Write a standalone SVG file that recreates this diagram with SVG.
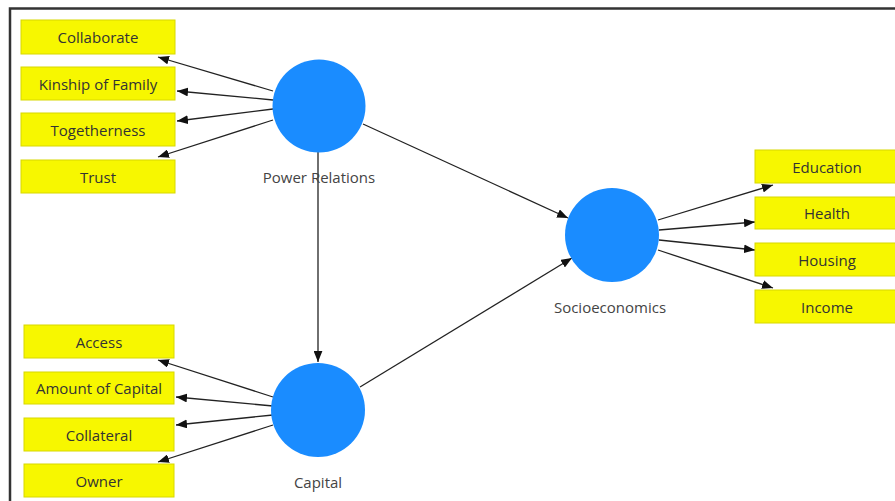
<svg xmlns="http://www.w3.org/2000/svg" width="895" height="501" viewBox="0 0 895 501">
<defs>
<style>
.box{fill:#f7f700;stroke:#d8d800;stroke-width:1}
.bt{font-family:"Open Sans","Liberation Sans",sans-serif;font-size:15px;fill:#333;text-anchor:middle;dominant-baseline:central}
.circ{fill:#1a8cff}
.lbl{font-family:"Open Sans","Liberation Sans",sans-serif;font-size:15px;fill:#444;text-anchor:middle;dominant-baseline:central}
.edge{stroke:#222;stroke-width:1.3;fill:none;marker-end:url(#arr)}
</style>
<marker id="arr" viewBox="0 0 10 8" refX="10" refY="4" markerWidth="11" markerHeight="9" markerUnits="userSpaceOnUse" orient="auto">
<path d="M0,0 L10,4 L0,8 Z" fill="#111"/>
</marker>
</defs>
<rect width="895" height="501" fill="#fff"/>
<path d="M10,501 V8.5 H895" fill="none" stroke="#333" stroke-width="2.5"/>

<g id="connectors">
<line class="edge" x1="273" y1="91" x2="158" y2="57"/>
<line class="edge" x1="273" y1="100" x2="177" y2="91"/>
<line class="edge" x1="273" y1="109" x2="177" y2="121"/>
<line class="edge" x1="273" y1="120" x2="158" y2="157"/>
<line class="edge" x1="273" y1="397" x2="158" y2="360"/>
<line class="edge" x1="273" y1="406" x2="176" y2="397"/>
<line class="edge" x1="273" y1="415" x2="176" y2="425"/>
<line class="edge" x1="273" y1="425" x2="158" y2="462"/>
<line class="edge" x1="658" y1="220" x2="773" y2="185"/>
<line class="edge" x1="659" y1="230" x2="755" y2="222"/>
<line class="edge" x1="659" y1="240" x2="755" y2="250"/>
<line class="edge" x1="658" y1="250" x2="773" y2="288"/>
<line class="edge" x1="363" y1="124" x2="568" y2="218"/>
<line class="edge" x1="360" y1="387" x2="572" y2="258"/>
<line class="edge" x1="318" y1="152" x2="318" y2="362"/>
</g>

<g id="power-relations"><circle class="circ" cx="319" cy="106" r="46.5"/><text class="lbl" x="319" y="177">Power Relations</text></g>
<g id="capital"><circle class="circ" cx="318" cy="410" r="47"/><text class="lbl" x="318" y="482">Capital</text></g>
<g id="socioeconomics"><circle class="circ" cx="612" cy="235" r="47"/><text class="lbl" x="610" y="307">Socioeconomics</text></g>

<g id="collaborate"><rect class="box" x="21" y="20" width="154" height="34"/><text class="bt" x="98" y="37">Collaborate</text></g>
<g id="kinship"><rect class="box" x="21" y="67" width="154" height="33"/><text class="bt" x="98" y="84">Kinship of Family</text></g>
<g id="togetherness"><rect class="box" x="21" y="113" width="154" height="33"/><text class="bt" x="98" y="130">Togetherness</text></g>
<g id="trust"><rect class="box" x="21" y="160" width="154" height="33"/><text class="bt" x="98" y="177">Trust</text></g>

<g id="access"><rect class="box" x="24" y="325" width="150" height="33"/><text class="bt" x="99" y="342">Access</text></g>
<g id="amount"><rect class="box" x="24" y="372" width="150" height="32"/><text class="bt" x="99" y="388">Amount of Capital</text></g>
<g id="collateral"><rect class="box" x="24" y="418" width="150" height="33"/><text class="bt" x="99" y="435">Collateral</text></g>
<g id="owner"><rect class="box" x="24" y="464" width="150" height="33"/><text class="bt" x="99" y="481">Owner</text></g>

<g id="education"><rect class="box" x="755" y="150" width="145" height="33"/><text class="bt" x="827" y="167">Education</text></g>
<g id="health"><rect class="box" x="755" y="197" width="145" height="32"/><text class="bt" x="827" y="213">Health</text></g>
<g id="housing"><rect class="box" x="755" y="243" width="145" height="33"/><text class="bt" x="827" y="260">Housing</text></g>
<g id="income"><rect class="box" x="755" y="290" width="145" height="33"/><text class="bt" x="827" y="307">Income</text></g>
</svg>
